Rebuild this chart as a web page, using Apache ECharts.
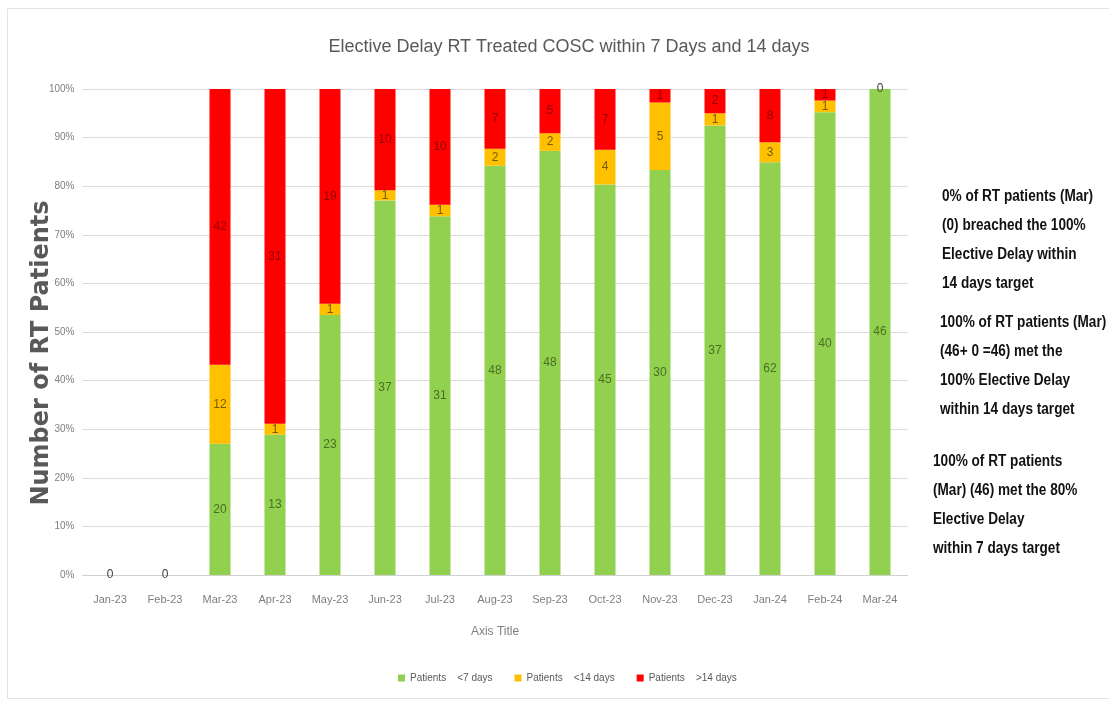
<!DOCTYPE html>
<html>
<head>
<meta charset="utf-8">
<script src="https://cdn.jsdelivr.net/npm/echarts@6/dist/echarts.min.js"></script>
<style>
  html, body { margin: 0; padding: 0; background: #fff; }
  #chart { width: 1109px; height: 703px; }
</style>
</head>
<body>
<div id="chart"></div>
<script>
// Monthly counts of RT patients by wait band
const categories = ['Jan-23', 'Feb-23', 'Mar-23', 'Apr-23', 'May-23', 'Jun-23', 'Jul-23', 'Aug-23',
  'Sep-23', 'Oct-23', 'Nov-23', 'Dec-23', 'Jan-24', 'Feb-24', 'Mar-24'];
const within7 = [0, 0, 20, 13, 23, 37, 31, 48, 48, 45, 30, 37, 62, 40, 46];
const within14 = [0, 0, 12, 1, 1, 1, 1, 2, 2, 4, 5, 1, 3, 1, 0];
const over14 = [0, 0, 42, 31, 19, 10, 10, 7, 5, 7, 1, 2, 8, 1, 0];
const seriesNames = ['Patients    <7 days', 'Patients    <14 days', 'Patients    >14 days'];
const yTickLabels = ['0%', '10%', '20%', '30%', '40%', '50%', '60%', '70%', '80%', '90%', '100%'];

const noteBlocks = [
  { x: 942, y: 197, lines: ['0% of RT patients (Mar)', '(0) breached the 100%', 'Elective Delay within', '14 days target'] },
  { x: 940, y: 323, lines: ['100% of RT patients (Mar)', '(46+ 0 =46) met the', '100% Elective Delay', 'within 14 days target'] },
  { x: 933, y: 462, lines: ['100% of RT patients', '(Mar) (46) met the 80%', 'Elective Delay', 'within 7 days target'] }
];

const FONT = '"Liberation Sans", Arial, sans-serif';

const totals = categories.map((_, i) => within7[i] + within14[i] + over14[i]);
const colors = ['#92D050', '#FFC000', '#FF0000'];
const labelColors = ['#4b6e22', '#7a5a00', '#8f0000'];
const counts = [within7, within14, over14];

// Each band as a share of the month's total; zero counts keep one neutral label on top
function bandData(k) {
  return counts[k].map((v, i) => {
    const share = totals[i] ? v / totals[i] * 100 : 0;
    if (v !== 0) return share;
    const showZero = k === 2;
    return { value: share, label: { show: showZero, color: '#404040' } };
  });
}

const chart = echarts.init(document.getElementById('chart'), null, { renderer: 'canvas' });

const graphics = [
  { type: 'rect', shape: { x: 7.5, y: 8.5, width: 1120, height: 690 }, style: { fill: 'none', stroke: '#e3e3e3', lineWidth: 1 }, silent: true },
  { type: 'text', x: 42, y: 353, rotation: Math.PI / 2,
    style: { text: 'Number of RT Patients', font: 'bold 24px "DejaVu Sans", sans-serif', fill: '#595959', align: 'center', verticalAlign: 'middle' } }
];
noteBlocks.forEach(b => {
  b.lines.forEach((t, j) => {
    graphics.push({ type: 'text', x: b.x, y: b.y + j * 29, scaleX: 0.85,
      style: { text: t, font: 'bold 16px ' + FONT, fill: '#111', align: 'left', verticalAlign: 'middle' } });
  });
});

chart.setOption({
  animation: false,
  backgroundColor: '#fff',
  title: {
    text: 'Elective Delay RT Treated COSC within 7 Days and 14 days',
    left: 564, top: 33, textAlign: 'center',
    textStyle: { fontFamily: FONT, fontSize: 18, fontWeight: 'normal', color: '#595959' }
  },
  grid: { left: 82.5, right: 201.5, top: 89, bottom: 128, containLabel: false },
  legend: {
    bottom: 15, left: 393,
    itemWidth: 7, itemHeight: 7, itemGap: 22, icon: 'rect',
    textStyle: { fontFamily: FONT, fontSize: 10, color: '#595959' },
    data: seriesNames
  },
  xAxis: {
    type: 'category',
    data: categories,
    name: 'Axis Title', nameLocation: 'middle', nameGap: 51,
    nameTextStyle: { fontFamily: FONT, fontSize: 12, color: '#7f7f7f' },
    axisLine: { lineStyle: { color: '#d0d0d0' } },
    axisTick: { show: false },
    axisLabel: { fontFamily: FONT, fontSize: 11, color: '#7f7f7f', margin: 19 }
  },
  yAxis: {
    type: 'value', min: 0, max: 100, interval: 10,
    axisLine: { show: false }, axisTick: { show: false },
    splitLine: { lineStyle: { color: '#dcdcdc' } },
    axisLabel: { fontFamily: FONT, fontSize: 10, color: '#7f7f7f', margin: 8,
      formatter: v => yTickLabels[Math.round(v / 10)] }
  },
  series: seriesNames.map((name, k) => ({
    name, type: 'bar', stack: 'all', barWidth: 21,
    itemStyle: { color: colors[k] },
    label: {
      show: true, position: 'inside',
      fontFamily: FONT, fontSize: 12, color: labelColors[k],
      formatter: p => String(counts[k][p.dataIndex])
    },
    data: bandData(k)
  })),
  graphic: graphics
});
</script>
</body>
</html>
